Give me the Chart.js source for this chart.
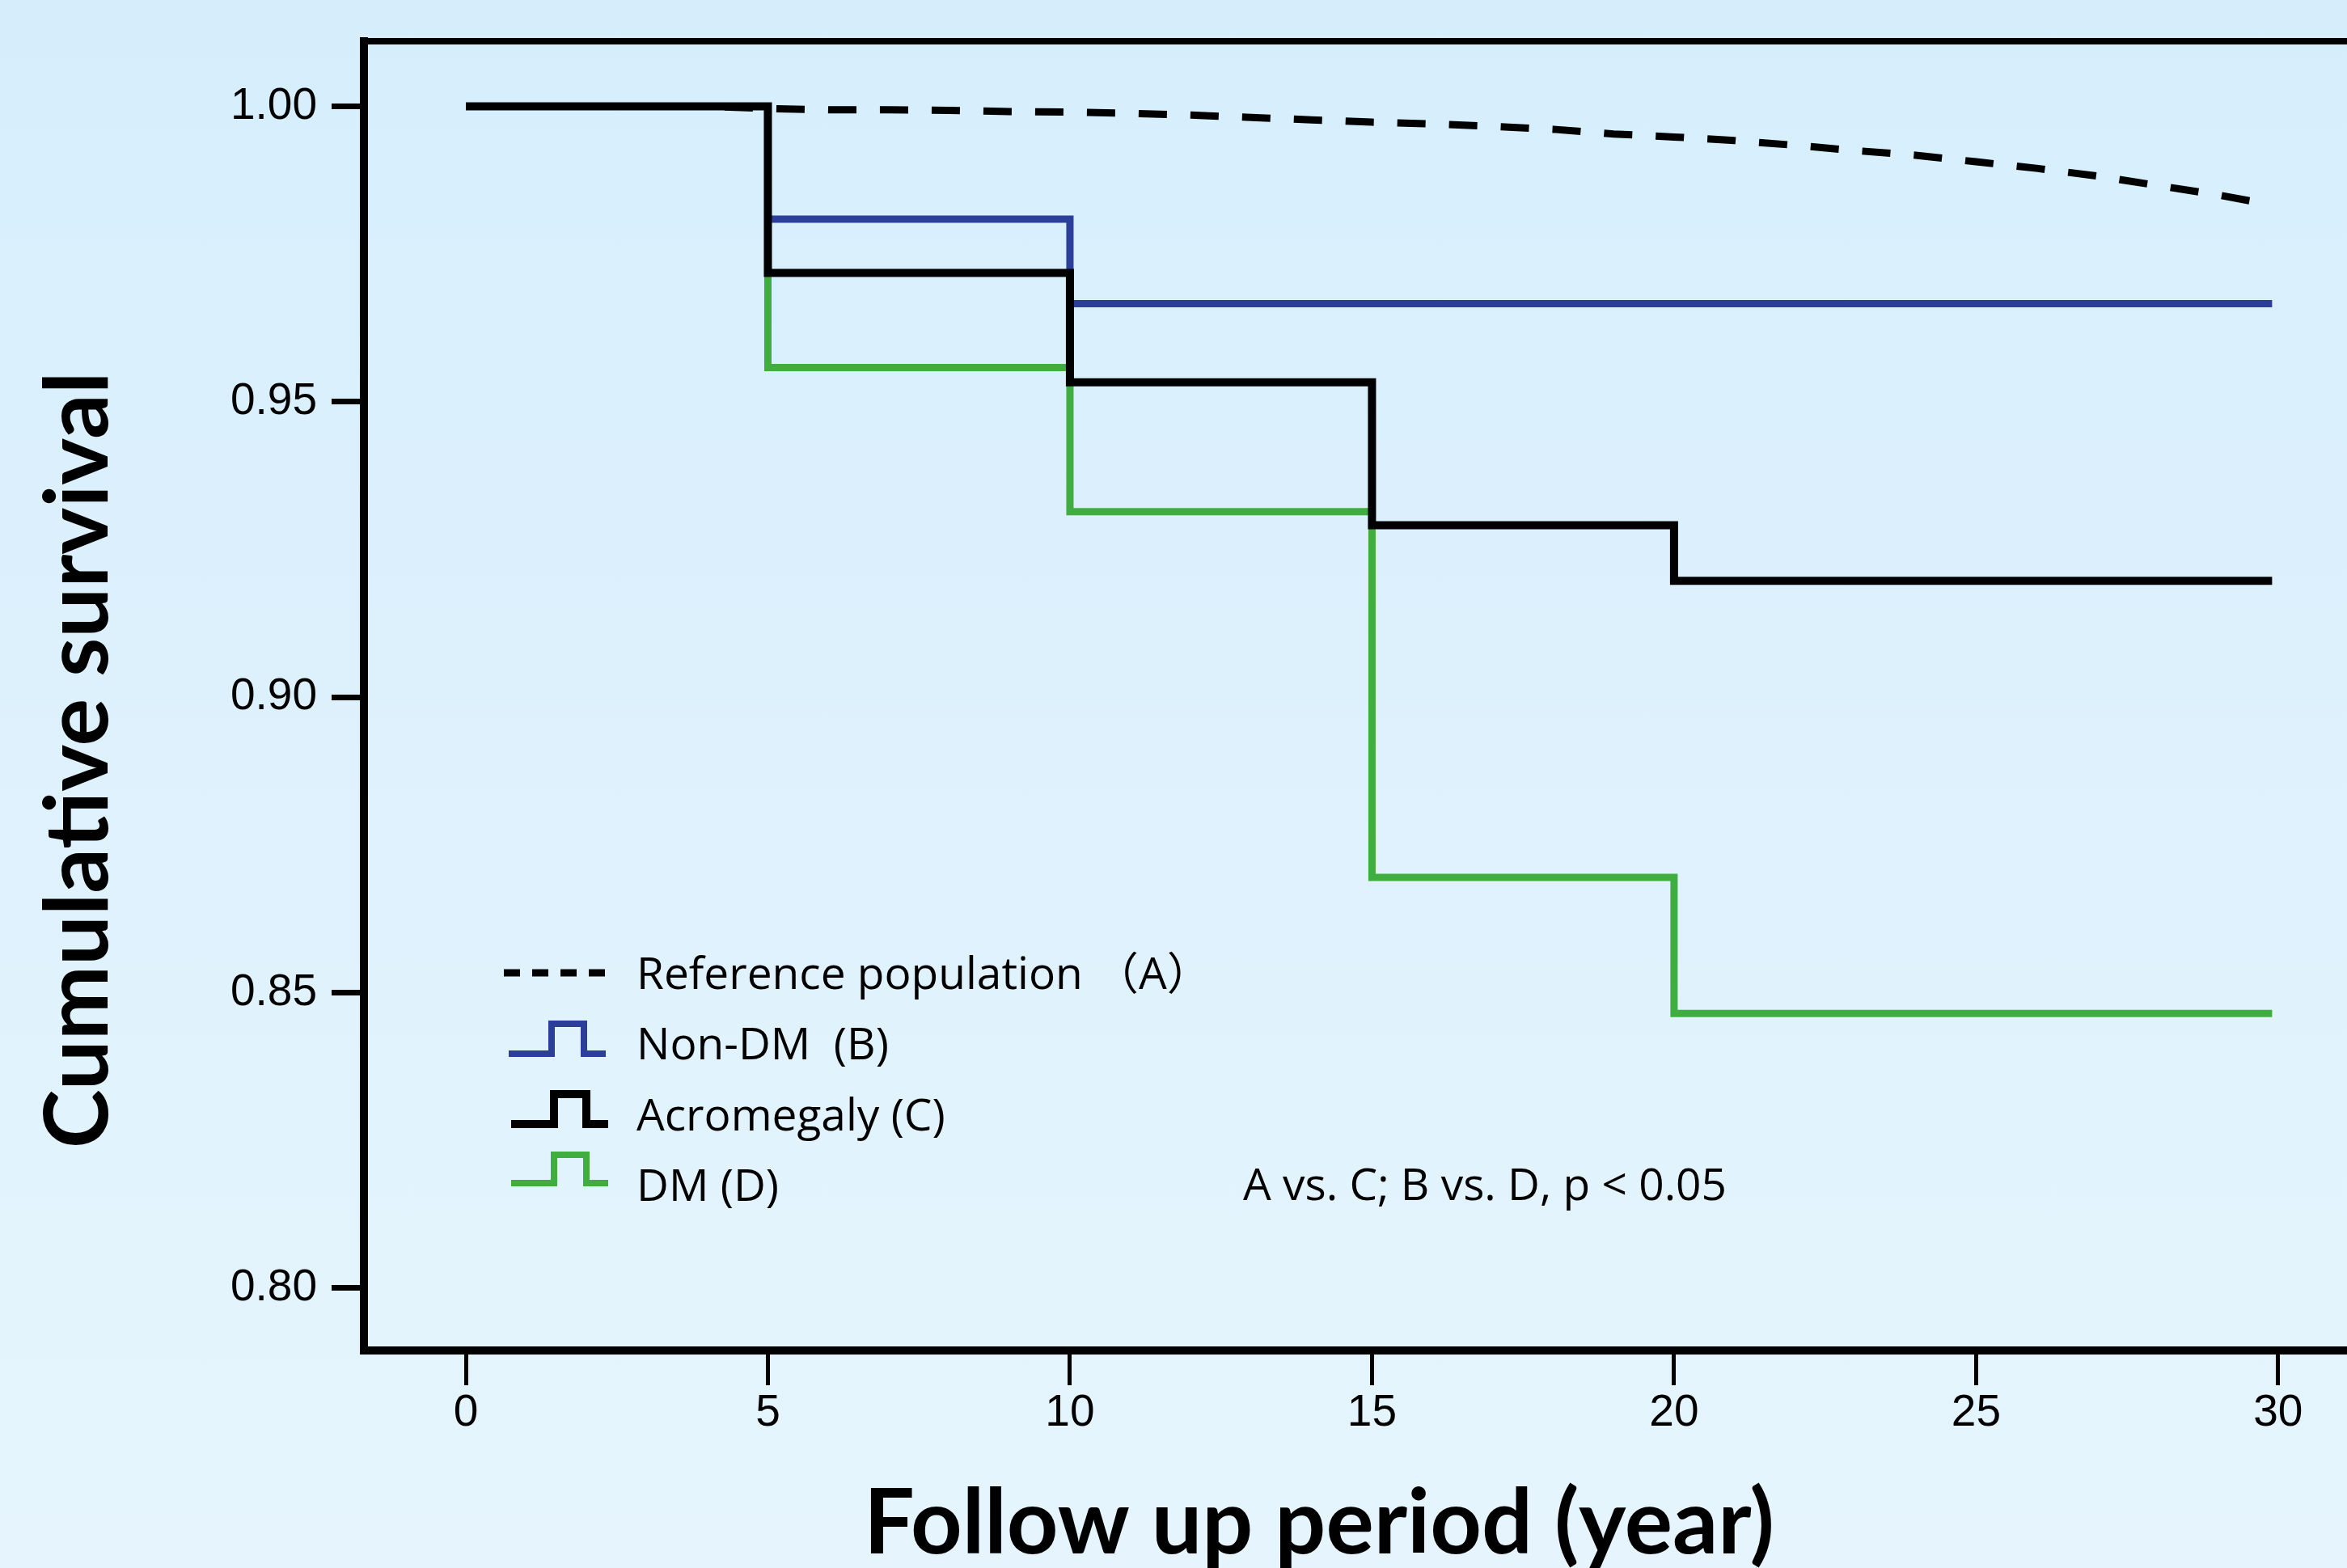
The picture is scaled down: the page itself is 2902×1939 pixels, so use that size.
<!DOCTYPE html>
<html>
<head>
<meta charset="utf-8">
<title>Cumulative survival</title>
<script src="https://cdn.jsdelivr.net/npm/chart.js@4.4.1/dist/chart.umd.min.js"></script>
<style>
  html, body {
    margin: 0;
    padding: 0;
    width: 2902px;
    height: 1939px;
    overflow: hidden;
    background: linear-gradient(to bottom, #d6eefc 0%, #e6f5fd 100%);
  }
  #kmChart { display: block; }
</style>
</head>
<body>
<canvas id="kmChart" width="2902" height="1939"></canvas>
<script>
// step curves (Kaplan-Meier), value holds from each time to the next
const stepYears = [0, 5, 10, 15, 20, 29.9];
const nonDm = [1.0, 0.9809, 0.9666, 0.9666, 0.9666, 0.9666];
const acromegaly = [1.0, 0.9718, 0.9533, 0.9291, 0.9197, 0.9197];
const dm = [1.0, 0.9558, 0.9314, 0.8695, 0.8465, 0.8465];

// reference population (expected survival)
const refYears = [0, 1, 2, 3, 4, 5, 6, 7, 8, 9, 10, 11, 12, 13, 14, 15, 16, 17, 18, 19, 20,
  21, 22, 23, 24, 25, 26, 27, 28, 29, 29.9];
const refSurvival = [1.0, 1.0, 1.0, 1.0, 1.0, 0.9996, 0.9994, 0.9994, 0.9993, 0.9991, 0.9990,
  0.9988, 0.9985, 0.9981, 0.9977, 0.9973, 0.9970, 0.9966, 0.9961, 0.9953, 0.9948,
  0.9942, 0.9934, 0.9925, 0.9917, 0.9906, 0.9895, 0.9882, 0.9866, 0.9850, 0.9833];

const xTicks = [0, 5, 10, 15, 20, 25, 30];
const yTicks = [0.80, 0.85, 0.90, 0.95, 1.00];

const seriesNames = ['Reference population （A）', 'Non-DM  (B)', 'Acromegaly (C)', 'DM (D)'];
const noteText = 'A vs. C; B vs. D, p < 0.05';
const xTitle = 'Follow up period (year)';
const yTitle = 'Cumulative survival';

const BLUE = '#2b3e9a';
const GREEN = '#3fad3f';
const BLACK = '#000000';

const toPoints = (xs, ys) => xs.map((x, i) => ({ x: x, y: ys[i] }));

// legend, note, titles and top frame line
const extras = {
  id: 'extras',
  afterDraw(chart) {
    const ctx = chart.ctx;
    const a = chart.chartArea;
    ctx.save();

    // top border of the frame
    ctx.strokeStyle = BLACK;
    ctx.lineWidth = 8;
    ctx.beginPath();
    ctx.moveTo(a.left - 5, a.top);
    ctx.lineTo(a.right, a.top);
    ctx.stroke();

    ctx.fillStyle = BLACK;
    ctx.textBaseline = 'alphabetic';

    // x title
    ctx.font = 'bold 111px Lato';
    ctx.textAlign = 'center';
    ctx.fillText(xTitle, 1631, 1921);

    // y title
    ctx.save();
    ctx.translate(133, 940);
    ctx.rotate(-Math.PI / 2);
    ctx.font = 'bold 110px Lato';
    ctx.fillText(yTitle, 0, 0);
    ctx.restore();

    // legend symbols
    ctx.lineCap = 'butt';
    ctx.lineJoin = 'miter';
    ctx.strokeStyle = BLACK;
    ctx.lineWidth = 9;
    ctx.setLineDash([20, 15]);
    ctx.beginPath();
    ctx.moveTo(623, 1203);
    ctx.lineTo(750, 1203);
    ctx.stroke();
    ctx.setLineDash([]);

    const icons = [
      { x: 629, base: 1303, h: 37, color: BLUE, w: 8 },
      { x: 632, base: 1390, h: 37, color: BLACK, w: 10 },
      { x: 632, base: 1463, h: 35, color: GREEN, w: 8 }
    ];
    icons.forEach(ic => {
      ctx.strokeStyle = ic.color;
      ctx.lineWidth = ic.w;
      ctx.beginPath();
      ctx.moveTo(ic.x, ic.base);
      ctx.lineTo(ic.x + 53, ic.base);
      ctx.lineTo(ic.x + 53, ic.base - ic.h);
      ctx.lineTo(ic.x + 93, ic.base - ic.h);
      ctx.lineTo(ic.x + 93, ic.base);
      ctx.lineTo(ic.x + 120, ic.base);
      ctx.stroke();
    });

    // legend text
    ctx.font = '55px "Open Sans", "Noto Sans CJK SC"';
    ctx.textAlign = 'left';
    const baselines = [1223, 1310, 1398, 1485];
    seriesNames.forEach((name, i) => ctx.fillText(name, 787, baselines[i]));

    ctx.fillText(noteText, 1537, 1484);
    ctx.restore();
  }
};

const ctx = document.getElementById('kmChart').getContext('2d');
const kmChart = new Chart(ctx, {
  type: 'line',
  data: {
    datasets: [
      {
        label: seriesNames[0],
        data: toPoints(refYears, refSurvival),
        borderColor: BLACK,
        borderWidth: 9,
        borderDash: [35, 29],
        pointRadius: 0,
        tension: 0
      },
      {
        label: seriesNames[2],
        data: toPoints(stepYears, acromegaly),
        borderColor: BLACK,
        borderWidth: 10,
        stepped: 'before',
        pointRadius: 0
      },
      {
        label: seriesNames[1],
        data: toPoints(stepYears, nonDm),
        borderColor: BLUE,
        borderWidth: 9,
        stepped: 'before',
        pointRadius: 0
      },
      {
        label: seriesNames[3],
        data: toPoints(stepYears, dm),
        borderColor: GREEN,
        borderWidth: 9,
        stepped: 'before',
        pointRadius: 0
      }
    ]
  },
  options: {
    responsive: false,
    animation: false,
    layout: { padding: { top: 47, left: 0, right: 0, bottom: 0 } },
    elements: { line: { borderJoinStyle: 'miter', borderCapStyle: 'butt' } },
    plugins: {
      legend: { display: false },
      tooltip: { enabled: false }
    },
    scales: {
      x: {
        type: 'linear',
        min: -1.687,
        max: 31.14,
        afterFit: scale => { scale.height = 269; },
        afterBuildTicks: scale => { scale.ticks = xTicks.map(v => ({ value: v })); },
        border: { display: true, color: BLACK, width: 10 },
        grid: {
          display: true,
          drawOnChartArea: false,
          drawTicks: true,
          tickLength: 43,
          tickWidth: 5,
          tickColor: BLACK
        },
        ticks: {
          color: BLACK,
          padding: 2,
          font: { family: 'Liberation Sans', size: 55 },
          callback: v => String(v)
        }
      },
      y: {
        type: 'linear',
        min: 0.78946,
        max: 1.011,
        afterFit: scale => { scale.width = 450; },
        afterBuildTicks: scale => { scale.ticks = yTicks.map(v => ({ value: v })); },
        border: { display: true, color: BLACK, width: 10 },
        grid: {
          display: true,
          drawOnChartArea: false,
          drawTicks: true,
          tickLength: 40,
          tickWidth: 7,
          tickColor: BLACK
        },
        ticks: {
          color: BLACK,
          padding: 18,
          font: { family: 'Liberation Sans', size: 55 },
          callback: v => Number(v).toFixed(2)
        }
      }
    }
  },
  plugins: [extras]
});
</script>
</body>
</html>
